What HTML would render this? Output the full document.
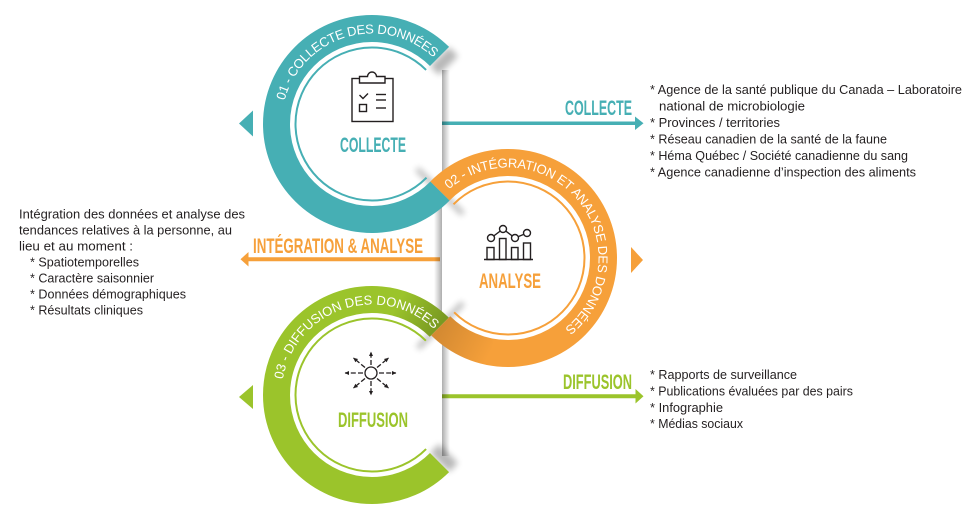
<!DOCTYPE html>
<html><head><meta charset="utf-8">
<style>
html,body{margin:0;padding:0;background:#fff;}
svg{display:block;}
.b{font-family:"Liberation Sans",Arial,sans-serif;font-size:13px;fill:#231f20;}
.r{font-family:"Liberation Sans",Arial,sans-serif;font-size:13px;fill:#fff;}
.l{font-family:"Liberation Sans Narrow","Liberation Sans",Arial,sans-serif;font-weight:bold;font-size:21px;}
</style></head><body>
<svg width="980" height="524" viewBox="0 0 980 524" xmlns="http://www.w3.org/2000/svg">
<defs>
 <filter id="bl" x="-50%" y="-50%" width="200%" height="200%"><feGaussianBlur stdDeviation="3.2"/></filter>
 <linearGradient id="vsR" x1="0" y1="0" x2="1" y2="0"><stop offset="0" stop-color="#000" stop-opacity="0.32"/><stop offset="1" stop-color="#000" stop-opacity="0"/></linearGradient>
 <linearGradient id="vsL" x1="0" y1="0" x2="1" y2="0"><stop offset="0" stop-color="#000" stop-opacity="0"/><stop offset="1" stop-color="#000" stop-opacity="0.32"/></linearGradient>
 <linearGradient id="gDark" gradientUnits="userSpaceOnUse" x1="439" y1="327" x2="398" y2="302"><stop offset="0" stop-color="#000" stop-opacity="0.22"/><stop offset="1" stop-color="#000" stop-opacity="0"/></linearGradient>
 <linearGradient id="oDark" gradientUnits="userSpaceOnUse" x1="491" y1="352" x2="441" y2="326"><stop offset="0" stop-color="#000" stop-opacity="0"/><stop offset="1" stop-color="#000" stop-opacity="0.14"/></linearGradient>
 <marker id="ah" viewBox="0 0 6 6" refX="5" refY="3" markerWidth="5" markerHeight="5" orient="auto" markerUnits="userSpaceOnUse"><path d="M0,0.5 L5.5,3 L0,5.5 Z" fill="#231f20"/></marker>
 <path id="tp1" d="M 284.58 100.58 A 90.5 90.5 0 0 1 441.33 65.83"/>
 <path id="tp2" d="M 448.98 189.39 A 90.5 90.5 0 0 1 576.41 198.75 A 90.5 90.5 0 0 1 553.25 336.38"/>
 <path id="tp3" d="M 282.85 379.44 A 90.5 90.5 0 0 1 441.33 336.83"/>
</defs>

<!-- soft shadows under ribbons -->
<g filter="url(#bl)" opacity="0.28">
 <polygon points="430,66 449,47 458,56 439,75"/>
 <polygon points="430,453 449,472 458,463 439,444"/>
 <line x1="417" y1="169" x2="463" y2="214" stroke="#000" stroke-width="5"/>
 <line x1="463" y1="303" x2="418" y2="348" stroke="#000" stroke-width="5"/>
</g>

<!-- arrows -->
<line x1="442" y1="123.3" x2="636" y2="123.3" stroke="#46AFB4" stroke-width="3.5"/>
<polygon points="635,116.5 643.5,123.3 635,130" fill="#46AFB4"/>
<line x1="248" y1="259.2" x2="440" y2="259.2" stroke="#F6A03A" stroke-width="4"/>
<polygon points="248.5,252 240.5,259.2 248.5,266.5" fill="#F6A03A"/>
<line x1="442" y1="396.3" x2="636" y2="396.3" stroke="#9BC42B" stroke-width="4"/>
<polygon points="635.5,389 643.5,396.3 635.5,403.5" fill="#9BC42B"/>

<!-- vertical fold shadows -->
<rect x="442" y="70" width="8" height="116" fill="url(#vsR)"/>
<rect x="434" y="206" width="8" height="106" fill="url(#vsL)"/>
<rect x="442" y="340" width="8" height="116" fill="url(#vsR)"/>

<!-- ribbons -->
<path d="M 439.53 56.47 A 95.5 95.5 0 1 0 440.03 191.03" fill="none" stroke="#46AFB4" stroke-width="27"/>
<path d="M 439.28 327.22 A 95.5 95.5 0 1 0 439.53 462.53" fill="none" stroke="#9BC42B" stroke-width="27"/>
<path d="M 439.28 327.22 A 95.5 95.5 0 0 0 396.72 302.75" fill="none" stroke="url(#gDark)" stroke-width="27"/>
<path d="M 439.97 190.97 A 95.5 95.5 0 1 1 440.72 325.78" fill="none" stroke="#F6A03A" stroke-width="27"/>
<path d="M 491.42 352.05 A 95.5 95.5 0 0 1 440.72 325.78" fill="none" stroke="url(#oDark)" stroke-width="27"/>

<!-- thin inner lines -->
<path d="M 426.09 69.91 A 76.5 76.5 0 1 0 426.5 177.7" fill="none" stroke="#46AFB4" stroke-width="2"/>
<path d="M 453.5 204.3 A 76.5 76.5 0 1 1 454.11 312.29" fill="none" stroke="#F6A03A" stroke-width="2"/>
<path d="M 425.89 340.71 A 76.5 76.5 0 1 0 426.09 449.09" fill="none" stroke="#9BC42B" stroke-width="2"/>

<!-- ring texts -->
<text class="r"><textPath href="#tp1" textLength="186">01 - COLLECTE DES DONNÉES</textPath></text>
<text class="r"><textPath href="#tp2" textLength="287">02 - INTÉGRATION ET ANALYSE DES DONNÉES</textPath></text>
<text class="r"><textPath href="#tp3" textLength="195">03 - DIFFUSION DES DONNÉES</textPath></text>

<!-- side triangles -->
<polygon points="239,123.5 253,110.5 253,136.5" fill="#46AFB4"/>
<polygon points="239,397 253,385 253,409" fill="#9BC42B"/>
<polygon points="631,247 643,260 631,273" fill="#F6A03A"/>

<!-- clipboard icon -->
<g fill="none" stroke="#231f20" stroke-width="1.4">
 <rect x="352" y="78.5" width="41" height="43" fill="#fff"/>
 <path d="M 359.5 83 V 76.5 H 367.5 A 4.5 4.5 0 0 1 376.5 76.5 H 385 V 83 Z" fill="#fff"/>
 <polyline points="359.5,95 363,98.5 368,93.5"/>
 <line x1="376" y1="94.5" x2="386" y2="94.5"/>
 <line x1="376" y1="100" x2="386" y2="100"/>
 <line x1="376" y1="108" x2="386" y2="108"/>
 <rect x="359.5" y="104.5" width="7" height="7"/>
</g>

<!-- analysis icon -->
<g fill="none" stroke="#231f20" stroke-width="1.4">
 <line x1="484" y1="259.5" x2="533" y2="259.5"/>
 <rect x="487" y="247.5" width="7" height="12"/>
 <rect x="499.5" y="238.5" width="6.5" height="21"/>
 <rect x="511.5" y="247.5" width="6.5" height="12"/>
 <rect x="523.5" y="243" width="7" height="16.5"/>
 <polyline points="491,238 503,229 515,238 527,233"/>
 <circle cx="491" cy="238" r="3.5" fill="#fff"/>
 <circle cx="503" cy="229" r="3.5" fill="#fff"/>
 <circle cx="515" cy="238" r="3.5" fill="#fff"/>
 <circle cx="527" cy="233" r="3.5" fill="#fff"/>
</g>

<!-- diffusion icon -->
<g fill="none" stroke="#231f20" stroke-width="1.3" stroke-dasharray="5 2.2">
 <circle cx="371" cy="373" r="6" stroke-dasharray="none"/>
 <line x1="371" y1="365" x2="371" y2="352" marker-end="url(#ah)"/>
 <line x1="371" y1="381" x2="371" y2="395" marker-end="url(#ah)"/>
 <line x1="363" y1="373" x2="345" y2="373" marker-end="url(#ah)"/>
 <line x1="379" y1="373" x2="396" y2="373" marker-end="url(#ah)"/>
 <line x1="365" y1="367.5" x2="353.5" y2="358" marker-end="url(#ah)"/>
 <line x1="377" y1="367.5" x2="388.5" y2="358" marker-end="url(#ah)"/>
 <line x1="365" y1="378.5" x2="353.5" y2="388" marker-end="url(#ah)"/>
 <line x1="377" y1="378.5" x2="388.5" y2="388" marker-end="url(#ah)"/>
</g>

<!-- center labels -->
<text class="l" x="340" y="152" textLength="66" lengthAdjust="spacingAndGlyphs" fill="#46AFB4">COLLECTE</text>
<text class="l" x="479" y="288" textLength="62" lengthAdjust="spacingAndGlyphs" fill="#F6A03A">ANALYSE</text>
<text class="l" x="338" y="427" textLength="70" lengthAdjust="spacingAndGlyphs" fill="#9BC42B">DIFFUSION</text>

<!-- arrow labels -->
<text class="l" x="565" y="115" textLength="67" lengthAdjust="spacingAndGlyphs" fill="#46AFB4">COLLECTE</text>
<text class="l" x="253" y="253" textLength="170" lengthAdjust="spacingAndGlyphs" fill="#F6A03A">INTÉGRATION &amp; ANALYSE</text>
<text class="l" x="563" y="389" textLength="69" lengthAdjust="spacingAndGlyphs" fill="#9BC42B">DIFFUSION</text>

<!-- right list: collecte -->
<text class="b" x="650" y="94" textLength="312" lengthAdjust="spacingAndGlyphs">* Agence de la santé publique du Canada – Laboratoire</text>
<text class="b" x="659" y="110.5" textLength="146" lengthAdjust="spacingAndGlyphs">national de microbiologie</text>
<text class="b" x="650" y="127" textLength="130" lengthAdjust="spacingAndGlyphs">* Provinces / territories</text>
<text class="b" x="650" y="143.5" textLength="237" lengthAdjust="spacingAndGlyphs">* Réseau canadien de la santé de la faune</text>
<text class="b" x="650" y="160" textLength="258" lengthAdjust="spacingAndGlyphs">* Héma Québec / Société canadienne du sang</text>
<text class="b" x="650" y="176.5" textLength="266" lengthAdjust="spacingAndGlyphs">* Agence canadienne d’inspection des aliments</text>

<!-- left list -->
<text class="b" x="19" y="218.5" textLength="226" lengthAdjust="spacingAndGlyphs">Intégration des données et analyse des</text>
<text class="b" x="19" y="234.5" textLength="213" lengthAdjust="spacingAndGlyphs">tendances relatives à la personne, au</text>
<text class="b" x="19" y="250.5" textLength="114" lengthAdjust="spacingAndGlyphs">lieu et au moment :</text>
<text class="b" x="30" y="266.5" textLength="109" lengthAdjust="spacingAndGlyphs">* Spatiotemporelles</text>
<text class="b" x="30" y="282.5" textLength="124" lengthAdjust="spacingAndGlyphs">* Caractère saisonnier</text>
<text class="b" x="30" y="298.5" textLength="156" lengthAdjust="spacingAndGlyphs">* Données démographiques</text>
<text class="b" x="30" y="314.5" textLength="113" lengthAdjust="spacingAndGlyphs">* Résultats cliniques</text>

<!-- right list: diffusion -->
<text class="b" x="650" y="379" textLength="147" lengthAdjust="spacingAndGlyphs">* Rapports de surveillance</text>
<text class="b" x="650" y="395.5" textLength="203" lengthAdjust="spacingAndGlyphs">* Publications évaluées par des pairs</text>
<text class="b" x="650" y="412" textLength="73" lengthAdjust="spacingAndGlyphs">* Infographie</text>
<text class="b" x="650" y="428" textLength="93" lengthAdjust="spacingAndGlyphs">* Médias sociaux</text>
</svg>
</body></html>
